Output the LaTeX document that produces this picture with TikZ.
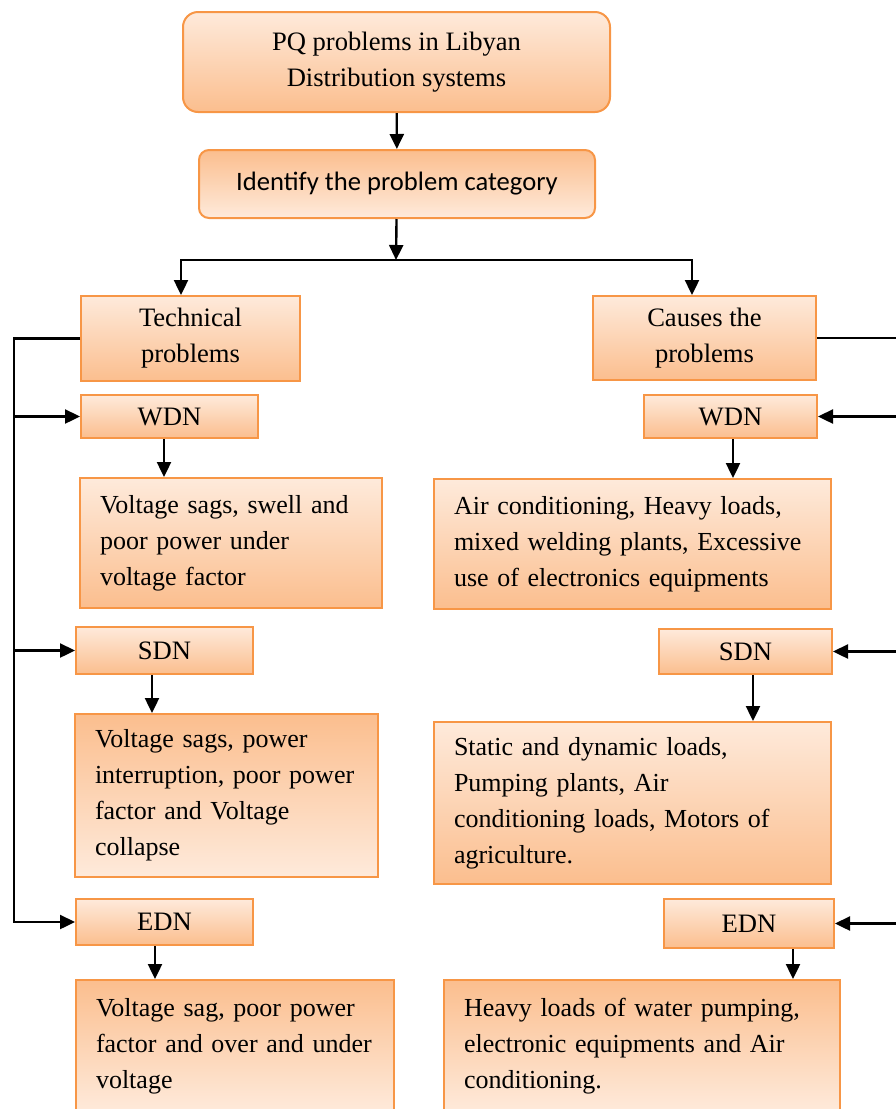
\documentclass[tikz,border=0pt]{standalone}
\usepackage{fontspec}
\setmainfont{Liberation Serif}
\newfontfamily\calibri{Carlito}
\usetikzlibrary{arrows.meta,positioning}
\definecolor{pqline}{HTML}{F79646}
\definecolor{pqpale}{HTML}{FEEADB}
\definecolor{pqpeach}{HTML}{FBBE8E}
\tikzset{
  pqbox/.style={rectangle, draw=pqline, line width=1pt, top color=pqpale, bottom color=pqpeach,
                anchor=north west, inner sep=0pt, align=center, font=\fontsize{13.3}{18}\selectfont},
  pqflip/.style={pqbox, top color=pqpeach, bottom color=pqpale},
  pqlist/.style={align=left, inner xsep=10pt, text width=#1, font=\fontsize{13}{18}\selectfont},
  arr/.style={-{Triangle[length=7.5pt,width=7pt]}, line width=1.2pt},
}

\begin{document}
\begin{tikzpicture}[x=0.5pt, y=-0.5pt]
  \useasboundingbox (0,0) rectangle (895,1109);
  % head of the chart
  \node[pqbox, rounded corners=7.5pt, minimum width=213.5pt, minimum height=50pt] (pq) at (182,11)
    {PQ problems in Libyan\\Distribution systems};
  \node[pqflip, rounded corners=5pt, minimum width=198pt, minimum height=34pt,
        font=\calibri\fontsize{13.3}{18}\selectfont] (ident) at (198,149)
    {Identify the problem category};
  \node[pqbox, minimum width=109.5pt, minimum height=42.5pt] (tech) at (80,295) {Technical\\problems};
  \node[pqbox, minimum width=111.5pt, minimum height=42pt] (cause) at (592,295) {Causes the\\problems};

  % technical side
  \node[pqbox, minimum width=88.5pt, minimum height=21.5pt] (lwdn) at (80,394) {WDN};
  \node[pqbox, pqlist=131pt, minimum height=65pt] (lwdnr) at (79,477)
    {Voltage sags, swell and\\poor power under\\voltage factor};
  \node[pqbox, minimum width=88.5pt, minimum height=23.5pt] (lsdn) at (75,626) {SDN};
  \node[pqflip, pqlist=131.5pt, minimum height=81.5pt] (lsdnr) at (74,713)
    {Voltage sags, power\\interruption, poor power\\factor and Voltage\\collapse};
  \node[pqbox, minimum width=88.5pt, minimum height=23pt] (ledn) at (75,898) {EDN};
  \node[pqflip, pqlist=139pt, minimum height=66pt] (lednr) at (75,979)
    {Voltage sag, poor power\\factor and over and under\\voltage};

  % causes side
  \node[pqbox, minimum width=86.5pt, minimum height=21.5pt] (rwdn) at (643,394) {WDN};
  \node[pqbox, pqlist=178.5pt, minimum height=65pt] (rwdnr) at (433,478)
    {Air conditioning, Heavy loads,\\mixed welding plants, Excessive\\use of electronics equipments};
  \node[pqbox, minimum width=86.5pt, minimum height=22.5pt] (rsdn) at (658,628) {SDN};
  \node[pqbox, pqlist=178.5pt, minimum height=81pt] (rsdnr) at (433,721)
    {Static and dynamic loads,\\Pumping plants, Air\\conditioning loads, Motors of\\agriculture.};
  \node[pqbox, minimum width=85pt, minimum height=24.5pt] (redn) at (663,898) {EDN};
  \node[pqflip, pqlist=178pt, minimum height=66pt] (rednr) at (443,979)
    {Heavy loads of water pumping,\\electronic equipments and Air\\conditioning.};

  % connectors
  \coordinate (split) at (396,260);
  \coordinate (lbus) at (ledn.west -| 14,0);
  \coordinate (rbus) at (redn.east -| 901,0);
  \draw[arr] (pq) -- (ident);
  \draw[arr] (ident) -- (split);
  \draw[arr] (split) -| (tech.north -| 181,0);
  \draw[arr] (split) -| (cause.north -| 692,0);

  \draw[arr] (tech.west) -| (lbus) -- (ledn.west);
  \draw[arr] (lbus |- lwdn.west) -- (lwdn.west);
  \draw[arr] (lbus |- lsdn.west) -- (lsdn.west);
  \draw[arr] (cause.east) -| (rbus) -- (redn.east);
  \draw[arr] (rbus |- rwdn.east) -- (rwdn.east);
  \draw[arr] (rbus |- rsdn.east) -- (rsdn.east);

  \foreach \a/\b/\x in {lwdn/lwdnr/164, lsdn/lsdnr/152, ledn/lednr/155,
                        rwdn/rwdnr/733, rsdn/rsdnr/753, redn/rednr/793}
    \draw[arr] (\a.south -| \x,0) -- (\b.north -| \x,0);
\end{tikzpicture}
\end{document}
